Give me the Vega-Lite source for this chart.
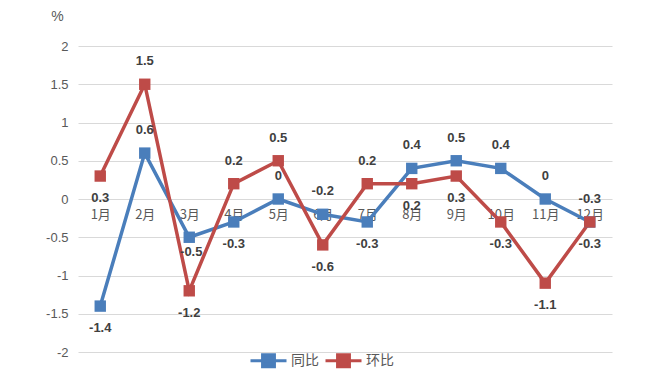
{
  "$schema": "https://vega.github.io/schema/vega-lite/v6.json",
  "width": 534,
  "height": 306,
  "autosize": {"type": "none"},
  "padding": {"left": 78, "top": 46, "right": 36, "bottom": 35},
  "background": "white",
  "config": {
    "view": {"stroke": null},
    "font": "Liberation Sans, Noto Sans CJK SC"
  },
  "data": {
    "values": [
      {"month": "1月", "series": "同比", "value": -1.4},
      {"month": "2月", "series": "同比", "value": 0.6},
      {"month": "3月", "series": "同比", "value": -0.5},
      {"month": "4月", "series": "同比", "value": -0.3},
      {"month": "5月", "series": "同比", "value": 0},
      {"month": "6月", "series": "同比", "value": -0.2},
      {"month": "7月", "series": "同比", "value": -0.3},
      {"month": "8月", "series": "同比", "value": 0.4},
      {"month": "9月", "series": "同比", "value": 0.5},
      {"month": "10月", "series": "同比", "value": 0.4},
      {"month": "11月", "series": "同比", "value": 0},
      {"month": "12月", "series": "同比", "value": -0.3},
      {"month": "1月", "series": "环比", "value": 0.3},
      {"month": "2月", "series": "环比", "value": 1.5},
      {"month": "3月", "series": "环比", "value": -1.2},
      {"month": "4月", "series": "环比", "value": 0.2},
      {"month": "5月", "series": "环比", "value": 0.5},
      {"month": "6月", "series": "环比", "value": -0.6},
      {"month": "7月", "series": "环比", "value": 0.2},
      {"month": "8月", "series": "环比", "value": 0.2},
      {"month": "9月", "series": "环比", "value": 0.3},
      {"month": "10月", "series": "环比", "value": -0.3},
      {"month": "11月", "series": "环比", "value": -1.1},
      {"month": "12月", "series": "环比", "value": -0.3}
    ]
  },
  "encoding": {
    "x": {
      "field": "month",
      "type": "ordinal",
      "sort": ["1月","2月","3月","4月","5月","6月","7月","8月","9月","10月","11月","12月"],
      "scale": {"type": "point", "padding": 0.5},
      "axis": {
        "title": null,
        "orient": "bottom",
        "offset": -153,
        "domain": false,
        "ticks": false,
        "labelAngle": 0,
        "labelPadding": 9,
        "labelFontSize": 13,
        "labelColor": "#595959",
        "labelFont": "Noto Sans CJK SC"
      }
    },
    "y": {
      "field": "value",
      "type": "quantitative",
      "scale": {"domain": [-2, 2], "nice": false, "zero": false},
      "axis": {
        "values": [-2, -1.5, -1, -0.5, 0, 0.5, 1, 1.5, 2],
        "labelExpr": "datum.value + ''",
        "domain": false,
        "ticks": false,
        "labelPadding": 10,
        "labelFontSize": 13,
        "labelColor": "#595959",
        "gridColor": "#d9d9d9",
        "gridWidth": 1,
        "title": "%",
        "titleAngle": 0,
        "titleFontWeight": "normal",
        "titleFontSize": 14,
        "titleColor": "#595959",
        "titleX": -21,
        "titleY": -30,
        "titleAlign": "center",
        "titleBaseline": "middle"
      }
    },
    "color": {
      "field": "series",
      "type": "nominal",
      "scale": {"domain": ["同比", "环比"], "range": ["#4a7ebb", "#be4b48"]},
      "legend": {
        "orient": "none",
        "legendX": 171,
        "legendY": 295,
        "direction": "horizontal",
        "title": null,
        "labelFontSize": 14,
        "labelColor": "#595959",
        "labelFont": "Noto Sans CJK SC",
        "symbolType": "M-1,0L1,0M-0.33,-0.33L0.33,-0.33L0.33,0.33L-0.33,0.33Z",
        "symbolSize": 1296,
        "symbolStrokeWidth": 3,
        "columnPadding": 0,
        "labelOffset": 3
      }
    }
  },
  "layer": [
    {
      "mark": {"type": "line", "strokeWidth": 3.5}
    },
    {
      "mark": {"type": "point", "shape": "square", "filled": true, "size": 130, "opacity": 1}
    },
    {
      "transform": [
        {"filter": "(datum.series == '同比' && indexof(['2月','5月','6月','8月','9月','10月','11月','12月'], datum.month) >= 0) || (datum.series == '环比' && indexof(['2月','4月','5月','7月'], datum.month) >= 0)"}
      ],
      "mark": {"type": "text", "dy": -23, "fontWeight": "bold", "fontSize": 13, "color": "#404040"},
      "encoding": {
        "text": {"field": "value", "type": "nominal"},
        "color": {"value": "#404040"}
      }
    },
    {
      "transform": [
        {"filter": "(datum.series == '同比' && indexof(['1月','4月','7月'], datum.month) >= 0) || (datum.series == '环比' && indexof(['1月','3月','6月','8月','9月','10月','11月','12月'], datum.month) >= 0)"}
      ],
      "mark": {"type": "text", "dy": 22, "fontWeight": "bold", "fontSize": 13, "color": "#404040"},
      "encoding": {
        "text": {"field": "value", "type": "nominal"},
        "color": {"value": "#404040"}
      }
    },
    {
      "transform": [
        {"filter": "datum.series == '同比' && datum.month == '3月'"}
      ],
      "mark": {"type": "text", "dy": 15, "dx": 2, "fontWeight": "bold", "fontSize": 13, "color": "#404040"},
      "encoding": {
        "text": {"field": "value", "type": "nominal"},
        "color": {"value": "#404040"}
      }
    }
  ]
}
